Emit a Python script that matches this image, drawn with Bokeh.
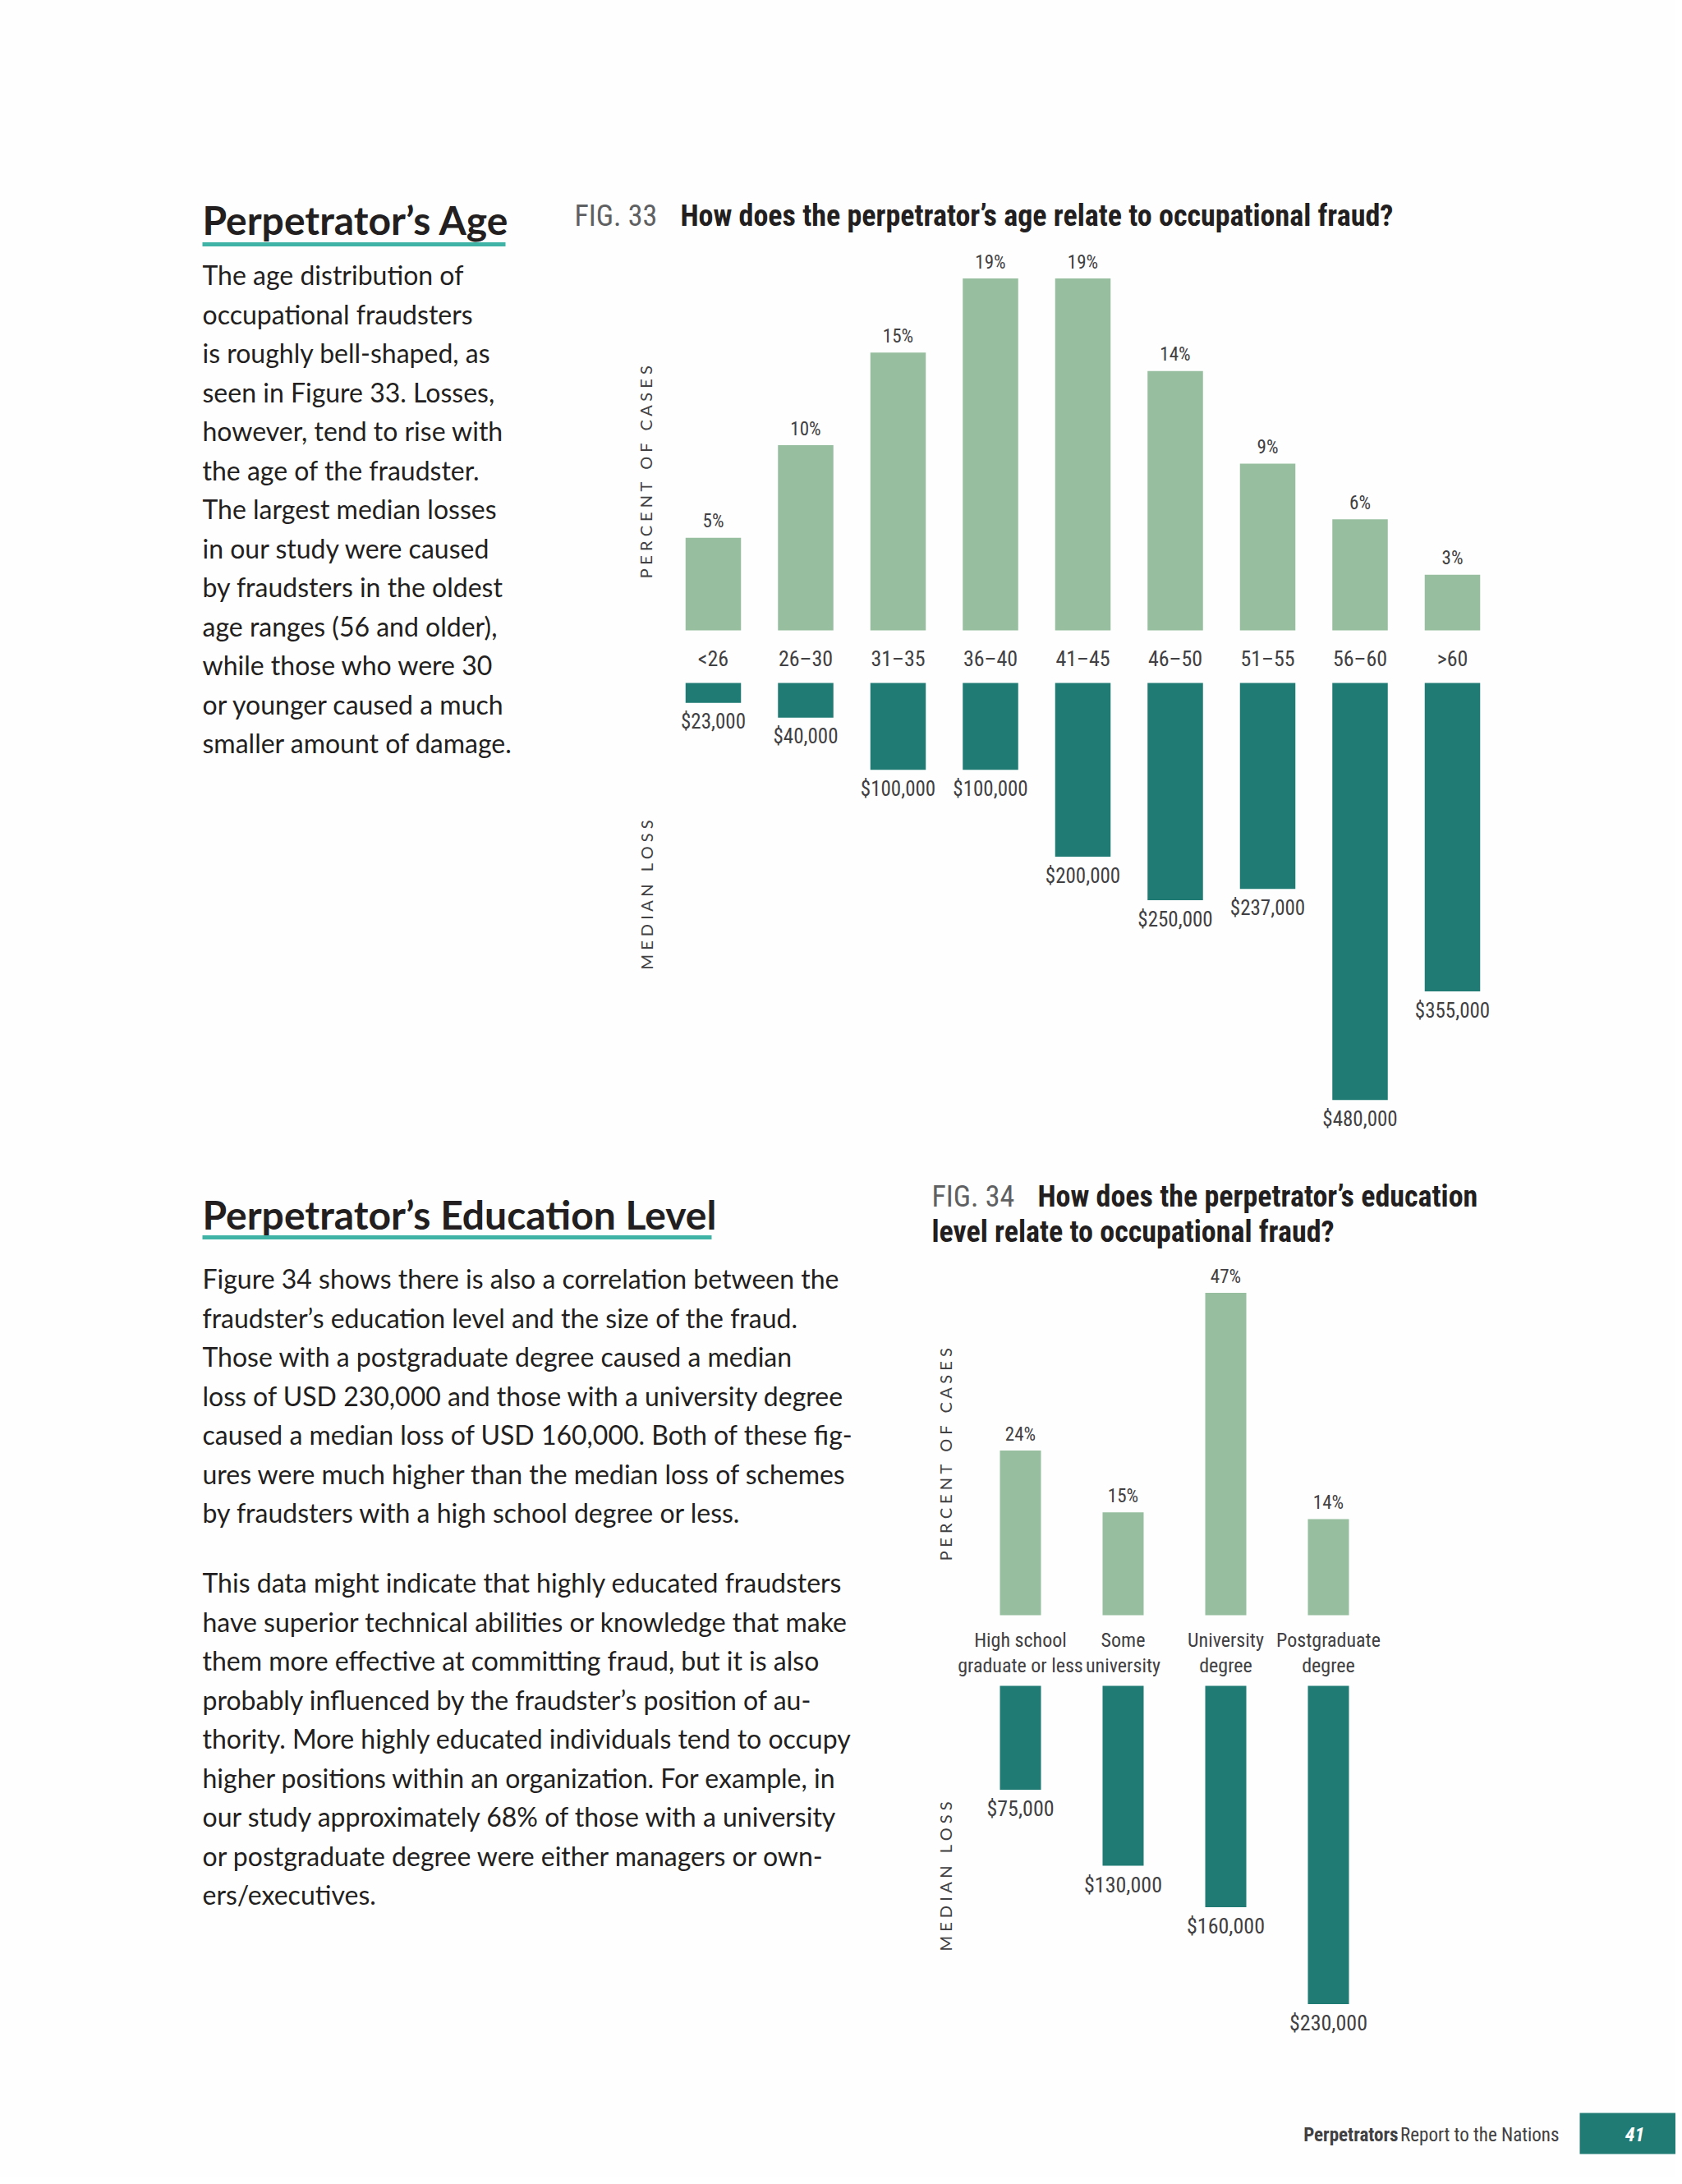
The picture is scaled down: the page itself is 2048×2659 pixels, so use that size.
from math import pi
from bokeh.plotting import figure
from bokeh.models import Range1d
from bokeh.embed import file_html
from bokeh.resources import INLINE
from bokeh.core.properties import value

# ---------------- data ----------------
age_groups = ["<26", "26–30", "31–35", "36–40", "41–45", "46–50", "51–55", "56–60", ">60"]
age_pct = [5, 10, 15, 19, 19, 14, 9, 6, 3]
age_loss = [23000, 40000, 100000, 100000, 200000, 250000, 237000, 480000, 355000]

edu_levels = ["High school\ngraduate or less", "Some\nuniversity", "University\ndegree", "Postgraduate\ndegree"]
edu_pct = [24, 15, 47, 14]
edu_loss = [75000, 130000, 160000, 230000]

age_text = [
    "The age distribution of",
    "occupational fraudsters",
    "is roughly bell-shaped, as",
    "seen in Figure 33. Losses,",
    "however, tend to rise with",
    "the age of the fraudster.",
    "The largest median losses",
    "in our study were caused",
    "by fraudsters in the oldest",
    "age ranges (56 and older),",
    "while those who were 30",
    "or younger caused a much",
    "smaller amount of damage.",
]
edu_text_1 = [
    "Figure 34 shows there is also a correlation between the",
    "fraudster’s education level and the size of the fraud.",
    "Those with a postgraduate degree caused a median",
    "loss of USD 230,000 and those with a university degree",
    "caused a median loss of USD 160,000. Both of these fig-",
    "ures were much higher than the median loss of schemes",
    "by fraudsters with a high school degree or less.",
]
edu_text_2 = [
    "This data might indicate that highly educated fraudsters",
    "have superior technical abilities or knowledge that make",
    "them more effective at committing fraud, but it is also",
    "probably influenced by the fraudster’s position of au-",
    "thority. More highly educated individuals tend to occupy",
    "higher positions within an organization. For example, in",
    "our study approximately 68% of those with a university",
    "or postgraduate degree were either managers or own-",
    "ers/executives.",
]

# ---------------- styling ----------------
LIGHT = "#97bf9f"
TEAL = "#1f7b74"
ACCENT = "#3fb3a5"
BODY = "#231f20"
LABEL = "#414042"
BG = "#fefefe"
BODY_FONT = value("Lato")
NARROW = value("'Roboto Condensed', 'DejaVu Sans Condensed', 'Liberation Sans Narrow', Roboto, sans-serif")

W, H = 2040, 2651
X0, X1, Y0, Y1 = 0, 2040, 0, 2651


def xr(origin, scale):
    return Range1d((X0 - origin) / scale, (X1 - origin) / scale)


def yr(origin, scale):
    return Range1d((origin - Y1) / scale, (origin - Y0) / scale)


p = figure(width=W, height=H, x_range=Range1d(X0, X1), y_range=Range1d(Y1, Y0),
           output_backend="svg", toolbar_location=None,
           x_axis_location=None, y_axis_location=None, min_border=0,
           outline_line_color=None, background_fill_color=BG, border_fill_color=BG)
p.grid.visible = False

# chart scales (pixels per unit)
S_AGE_X, S_PCT1, S_LOSS1 = 112.5, 22.55, 1.058e-3
S_EDU_X, S_PCT2, S_LOSS2 = 125.0, 8.35, 1.685e-3
p.extra_x_ranges = {"age": xr(868, S_AGE_X), "edu": xr(1242, S_EDU_X)}
p.extra_y_ranges = {
    "pct1": yr(767, S_PCT1),
    "loss1": yr(831, S_LOSS1),
    "pct2": yr(1966, S_PCT2),
    "loss2": yr(2052, S_LOSS2),
}

# ---------------- left text blocks ----------------
def heading(txt, x, y, ul_right, ul_y):
    p.text(x=[x], y=[y], text=[txt], text_font=BODY_FONT, text_font_style="bold",
           text_font_size="48px", text_color=BODY, text_baseline="middle", text_align="left")
    p.quad(left=[x], right=[ul_right], top=[ul_y - 2.5], bottom=[ul_y + 2.5],
           fill_color=ACCENT, line_color=None)


def paragraph(lines, x, y_first, step=47.5):
    p.text(x=[x] * len(lines), y=[y_first + i * step for i in range(len(lines))], text=lines,
           text_font=BODY_FONT, text_font_size="32px", text_color=BODY,
           text_baseline="middle", text_align="left")


heading("Perpetrator’s Age", 246, 267, 615, 297)
paragraph(age_text, 246, 334)
heading("Perpetrator’s Education Level", 246, 1478, 866, 1506)
paragraph(edu_text_1, 246, 1556)
paragraph(edu_text_2, 246, 1926)

# ---------------- figure titles ----------------
def title(fig, q, x, y, xq):
    p.text(x=[x], y=[y], text=[fig], text_font=NARROW, text_font_size="36px",
           text_color="#5f6062", text_baseline="middle", text_align="left")
    p.text(x=[xq], y=[y], text=[q], text_font=NARROW, text_font_style="bold",
           text_font_size="36px", text_color=BODY, text_baseline="middle", text_align="left")


title("FIG. 33", "How does the perpetrator’s age relate to occupational fraud?", 699, 262, 828)
title("FIG. 34", "How does the perpetrator’s education", 1134, 1456, 1263)
p.text(x=[1134], y=[1499], text=["level relate to occupational fraud?"], text_font=NARROW,
       text_font_style="bold", text_font_size="36px", text_color=BODY,
       text_baseline="middle", text_align="left")

# ---------------- chart helpers ----------------
def spaced(s):
    return "\u00a0\u00a0\u00a0".join(" ".join(w) for w in s.split(" "))


def side_label(txt, x, y):
    p.text(x=[x], y=[y], text=[spaced(txt)], angle=pi / 2, text_font=BODY_FONT,
           text_font_size="20px", text_color="#414042", text_baseline="middle", text_align="center")


def money(v):
    return "${:,}".format(v)


def chart(cats, pct, loss, xname, pname, lname, sp, sl, width, cat_y, cat_size, lab_size, loss_size):
    idx = list(range(len(cats)))
    p.vbar(x=idx, bottom=0, top=pct, width=width, x_range_name=xname, y_range_name=pname,
           fill_color=LIGHT, line_color=None)
    p.text(x=idx, y=[v + 20 / sp for v in pct], text=[f"{v}%" for v in pct],
           x_range_name=xname, y_range_name=pname, text_font=NARROW, text_font_size=lab_size,
           text_color=LABEL, text_align="center", text_baseline="middle")
    p.text(x=idx, y=[cat_y] * len(cats), text=cats, x_range_name=xname,
           text_font=NARROW, text_font_size=cat_size, text_color=LABEL,
           text_align="center", text_baseline="middle", text_line_height=1.1)
    neg = [-v for v in loss]
    p.vbar(x=idx, top=0, bottom=neg, width=width, x_range_name=xname, y_range_name=lname,
           fill_color=TEAL, line_color=None)
    p.text(x=idx, y=[v - 23 / sl for v in neg], text=[money(v) for v in loss],
           x_range_name=xname, y_range_name=lname, text_font=NARROW, text_font_size=loss_size,
           text_color=LABEL, text_align="center", text_baseline="middle")


chart(age_groups, age_pct, age_loss, "age", "pct1", "loss1", S_PCT1, S_LOSS1, 0.6, 801,
      "26px", "23px", "25px")
chart(edu_levels, edu_pct, edu_loss, "edu", "pct2", "loss2", S_PCT2, S_LOSS2, 0.4, 2012,
      "24px", "23px", "26px")

side_label("PERCENT OF CASES", 785, 573)
side_label("MEDIAN LOSS", 786, 1088)
side_label("PERCENT OF CASES", 1150, 1769)
side_label("MEDIAN LOSS", 1150, 2283)

# ---------------- footer ----------------
p.text(x=[1702], y=[2599], text=["Perpetrators"], text_font=NARROW, text_font_style="bold",
       text_font_size="23px", text_color="#414042", text_baseline="middle", text_align="right")
p.text(x=[1898], y=[2599], text=["Report to the Nations"], text_font=NARROW,
       text_font_size="23px", text_color="#414042", text_baseline="middle", text_align="right")
p.quad(left=[1923], right=[2048], top=[2572], bottom=[2622], fill_color=TEAL, line_color=None)
p.text(x=[1990], y=[2598], text=["41"], text_font=NARROW, text_font_style="bold italic",
       text_font_size="24px", text_color="white", text_baseline="middle", text_align="center")

open("out.html", "w").write(file_html(p, INLINE))
